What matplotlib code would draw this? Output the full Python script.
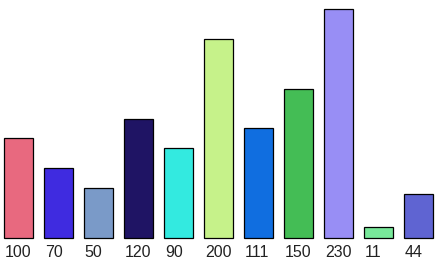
from matplotlib import pyplot as plt
import numpy as np

# values shown on the bars (also used as labels)
values = [100, 70, 50, 120, 90, 200, 111, 150, 230, 11, 44]
labels = [str(v) for v in values]
colors = ["#E8697F", "#3F2BE0", "#7A9AC8", "#1F1464", "#33EAE0", "#C6F28A",
          "#106EE0", "#44BD55", "#988EF5", "#78E89A", "#5F64D2"]

fig = plt.figure(figsize=(4.4, 2.65), dpi=100)
ax = fig.add_axes([0, 0, 1, 1])
x = np.arange(len(values))

ax.bar(x, values, width=0.725, align="edge", color=colors,
       edgecolor="black", linewidth=0.9)

for i in range(len(values)):
    ax.text(x[i] + 0.02, -6.5, labels[i], ha="left", va="top",
            fontsize=11.5, family="Liberation Sans", color="#222222")

ax.set_xlim(-0.1, 10.9)
ax.set_ylim(-27, 239)
ax.axis("off")

fig.savefig("out.png", dpi=100)
